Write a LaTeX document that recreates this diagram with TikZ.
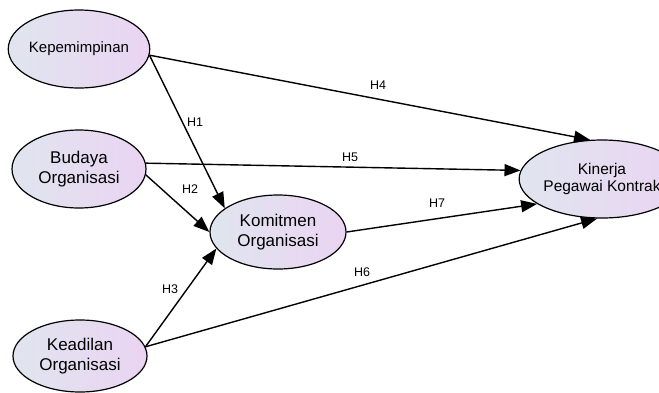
\documentclass[tikz,border=0pt]{standalone}
\usepackage{fontspec}
\setmainfont{Liberation Sans}
\usetikzlibrary{shapes.geometric,arrows.meta}

\definecolor{fillleft}{RGB}{224,229,239}
\definecolor{fillright}{RGB}{234,212,242}

\begin{document}
\begin{tikzpicture}[x=1pt,y=-1pt]
  \tikzset{construct/.style={ellipse,draw=black,line width=1.2pt,inner sep=0pt,
      left color=fillleft,right color=fillright,align=center,
      font=\fontsize{17}{20}\selectfont}}
  \tikzset{pathedge/.style={draw=black,line width=1.4pt,-{Triangle[length=16pt,width=12pt]}}}
  \tikzset{pathlabel/.style={inner sep=0pt,font=\fontsize{12.5}{14}\selectfont}}

  \useasboundingbox (0,0) rectangle (659,392);

  \node[construct,minimum width=134,minimum height=78,font=\fontsize{15}{17}\selectfont]
    (kep) at (79,49) {Kepemimpinan};
  \node[construct,minimum width=134,minimum height=78] (bud) at (79,169) {Budaya\\Organisasi};
  \node[construct,minimum width=136,minimum height=74] (kom) at (278,232) {Komitmen\\Organisasi};
  \node[construct,minimum width=134,minimum height=72] (kea) at (80,356) {Keadilan\\Organisasi};
  \node[construct,minimum width=134,minimum height=78,font=\fontsize{15.5}{17}\selectfont]
    (kin) at (602,179) {Kinerja\\Pegawai Kontrak};

  \draw[pathedge] (kep.-5) -- (kom.156);
  \draw[pathedge] (bud.-5) -- (kom.west);
  \draw[pathedge] (kea.8) -- (kom.195);
  \draw[pathedge] (kep.-5) -- (kin.107);
  \draw[pathedge] (bud.5) -- (kin.174);
  \draw[pathedge] (kea.8) -- (kin.263);
  \draw[pathedge] (kom.east) -- (kin.201);

  \node[pathlabel] (h1) at (195,122) {H1};
  \node[pathlabel] (h2) at (190,189) {H2};
  \node[pathlabel] (h3) at (170,289) {H3};
  \node[pathlabel] (h4) at (378,85) {H4};
  \node[pathlabel] (h5) at (350,157) {H5};
  \node[pathlabel] (h6) at (362,272) {H6};
  \node[pathlabel] (h7) at (437,203) {H7};
\end{tikzpicture}
\end{document}
